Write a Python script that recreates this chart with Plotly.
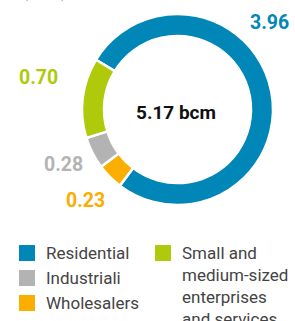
import plotly.graph_objects as go

categories = ["Residential", "Wholesalers", "Industriali", "Small and medium-sized enterprises and services"]
values = [3.96, 0.23, 0.28, 0.70]
colors = ["#0087B7", "#F9AE00", "#B3B3B3", "#AFCA0B"]
total_label = "5.17 bcm"
unit_label = "(bcm)"

legend_order = ["Residential", "Industriali", "Wholesalers", "Small and medium-sized enterprises and services"]
legend_text = {
    "Residential": "Residential",
    "Industriali": "Industriali",
    "Wholesalers": "Wholesalers",
    "Small and medium-sized enterprises and services": "Small and<br>medium-sized<br>enterprises<br>and services",
}

W, H = 295, 321

def px(x):
    return x / W

def py(y):
    return 1 - y / H

fig = go.Figure()
fig.add_trace(go.Pie(
    labels=categories,
    values=values,
    marker=dict(colors=colors, line=dict(color="white", width=2.5)),
    hole=0.77,
    sort=False,
    direction="clockwise",
    rotation=-58.6,
    textinfo="none",
    hoverinfo="label+value",
    showlegend=False,
    domain=dict(x=[px(82), px(273)], y=[py(205), py(14)]),
))

annotations = []
# partially visible unit label at the very top
annotations.append(dict(
    x=px(20), y=py(3), xref="paper", yref="paper", showarrow=False,
    text=unit_label, font=dict(family="Roboto", size=17, color="#222222"),
    xanchor="left", yanchor="bottom",
))

# value labels
label_pos = {
    "Residential": (291, 22, "right"),
    "Small and medium-sized enterprises and services": (38, 77, "center"),
    "Industriali": (63, 165, "center"),
    "Wholesalers": (85, 200, "center"),
}
for cat, val, col in zip(categories, values, colors):
    x, y, anc = label_pos[cat]
    annotations.append(dict(
        x=px(x), y=py(y), xref="paper", yref="paper", showarrow=False,
        text=f"<b>{val:.2f}</b>", font=dict(family="Roboto", size=19.5, color=col),
        xanchor=anc, yanchor="middle",
    ))

annotations.append(dict(
    x=px(176), y=py(112), xref="paper", yref="paper", showarrow=False,
    text=f"<b>{total_label}</b>", font=dict(family="Roboto", size=19, color="#111111"),
    xanchor="center", yanchor="middle",
))

# custom legend
leg_pos = {
    "Residential": (19, 253),
    "Industriali": (19, 278),
    "Wholesalers": (19, 303),
    "Small and medium-sized enterprises and services": (155, 253),
}
shapes = []
color_of = dict(zip(categories, colors))
for cat in legend_order:
    x, y = leg_pos[cat]
    shapes.append(dict(type="rect", xref="paper", yref="paper",
                       x0=px(x), x1=px(x + 16), y0=py(y + 8), y1=py(y - 8),
                       fillcolor=color_of[cat], line=dict(width=0)))
    annotations.append(dict(
        x=px(x + 25), y=py(y - 12), xref="paper", yref="paper", showarrow=False,
        text=legend_text[cat], font=dict(family="Roboto", size=17, color="#444444"),
        xanchor="left", yanchor="top", align="left",
    ))

fig.update_layout(
    width=W, height=H,
    margin=dict(l=0, r=0, t=0, b=0),
    paper_bgcolor="white", plot_bgcolor="white",
    annotations=annotations, shapes=shapes,
    showlegend=False,
)

fig.write_html(
    "out.html",
    config={"displayModeBar": False},
    post_script="document.body.style.margin='0px';document.body.style.overflow='hidden';",
)
